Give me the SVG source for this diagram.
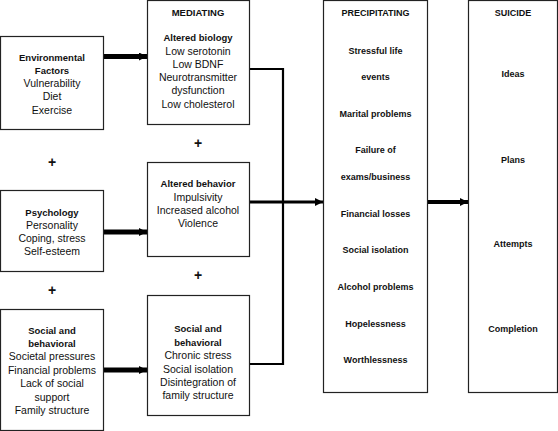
<svg xmlns="http://www.w3.org/2000/svg" width="558" height="431" viewBox="0 0 558 431">
<defs>
<style>
.box{fill:#fff;stroke:#222;stroke-width:1.2}
text{font-family:"Liberation Sans",Arial,sans-serif;font-size:10.5px;fill:#111;text-anchor:middle}
.b{font-weight:bold;font-size:9.5px}
.p{font-weight:bold;font-size:9px}
.plus{font-weight:bold;font-size:14px}
.ln{fill:none;stroke:#000}
</style>
<marker id="ah" viewBox="0 0 10 10" refX="10" refY="5" markerWidth="10" markerHeight="8" markerUnits="userSpaceOnUse" orient="auto"><path d="M0,0 L10,5 L0,10 z" fill="#000"/></marker>
<marker id="ah2" viewBox="0 0 10 10" refX="10" refY="5" markerWidth="11" markerHeight="8" markerUnits="userSpaceOnUse" orient="auto"><path d="M0,0 L10,5 L0,10 z" fill="#000"/></marker>
</defs>
<g id="connectors">
<line class="ln" x1="103" y1="56.5" x2="147" y2="56.5" stroke-width="5" marker-end="url(#ah)"/>
<line class="ln" x1="103" y1="232" x2="147" y2="232" stroke-width="5" marker-end="url(#ah)"/>
<line class="ln" x1="103" y1="370" x2="147" y2="370" stroke-width="5" marker-end="url(#ah)"/>
<polyline class="ln" points="249,69 283,69 283,364 249,364" stroke-width="2.2"/>
<line class="ln" x1="249" y1="202" x2="323" y2="202" stroke-width="3" marker-end="url(#ah2)"/>
<line class="ln" x1="427" y1="202" x2="468" y2="202" stroke-width="4" marker-end="url(#ah2)"/>
</g>
<g id="env">
<rect class="box" x="0.5" y="36.5" width="103" height="93"/>
<text class="b" x="52" y="61">Environmental</text>
<text class="b" x="52" y="74">Factors</text>
<text x="52" y="87">Vulnerability</text>
<text x="52" y="100">Diet</text>
<text x="52" y="114">Exercise</text>
</g>
<g id="psych">
<rect class="box" x="0.5" y="190.5" width="103" height="81"/>
<text class="b" x="52" y="216">Psychology</text>
<text x="52" y="229">Personality</text>
<text x="52" y="242">Coping, stress</text>
<text x="52" y="255">Self-esteem</text>
</g>
<g id="social-left">
<rect class="box" x="0.5" y="309.5" width="103" height="121"/>
<text class="b" x="52" y="334">Social and</text>
<text class="b" x="52" y="347">behavioral</text>
<text x="52" y="360">Societal pressures</text>
<text x="52" y="374">Financial problems</text>
<text x="52" y="387">Lack of social</text>
<text x="52" y="401">support</text>
<text x="52" y="414">Family structure</text>
</g>
<g id="mediating">
<rect class="box" x="147.5" y="0.5" width="102" height="124"/>
<text class="b" x="198" y="16">MEDIATING</text>
<text class="b" x="198" y="41">Altered biology</text>
<text x="198" y="55">Low serotonin</text>
<text x="198" y="68">Low BDNF</text>
<text x="198" y="81">Neurotransmitter</text>
<text x="198" y="94">dysfunction</text>
<text x="198" y="108">Low cholesterol</text>
</g>
<g id="altered-behavior">
<rect class="box" x="147.5" y="162.5" width="102" height="94"/>
<text class="b" x="198" y="187">Altered behavior</text>
<text x="198" y="201">Impulsivity</text>
<text x="198" y="214">Increased alcohol</text>
<text x="198" y="227">Violence</text>
</g>
<g id="social-mid">
<rect class="box" x="147.5" y="295.5" width="102" height="120"/>
<text class="b" x="198" y="332">Social and</text>
<text class="b" x="198" y="346">behavioral</text>
<text x="198" y="359">Chronic stress</text>
<text x="198" y="373">Social isolation</text>
<text x="198" y="386">Disintegration of</text>
<text x="198" y="399">family structure</text>
</g>
<g id="plus-signs">
<text class="plus" x="198" y="148">+</text>
<text class="plus" x="52" y="167">+</text>
<text class="plus" x="198" y="280">+</text>
<text class="plus" x="52" y="295">+</text>
</g>
<g id="precipitating">
<rect class="box" x="323.5" y="0.5" width="104" height="392"/>
<text class="p" x="375.5" y="16">PRECIPITATING</text>
<text class="p" x="375.5" y="54">Stressful life</text>
<text class="p" x="375.5" y="80">events</text>
<text class="p" x="375.5" y="117">Marital problems</text>
<text class="p" x="375.5" y="153">Failure of</text>
<text class="p" x="375.5" y="180">exams/business</text>
<text class="p" x="375.5" y="217">Financial losses</text>
<text class="p" x="375.5" y="253">Social isolation</text>
<text class="p" x="375.5" y="290">Alcohol problems</text>
<text class="p" x="375.5" y="327">Hopelessness</text>
<text class="p" x="375.5" y="363">Worthlessness</text>
</g>
<g id="suicide">
<rect class="box" x="468.5" y="0.5" width="89" height="392"/>
<text class="p" x="513" y="16">SUICIDE</text>
<text class="p" x="513" y="77">Ideas</text>
<text class="p" x="513" y="163">Plans</text>
<text class="p" x="513" y="247">Attempts</text>
<text class="p" x="513" y="332">Completion</text>
</g>
</svg>
